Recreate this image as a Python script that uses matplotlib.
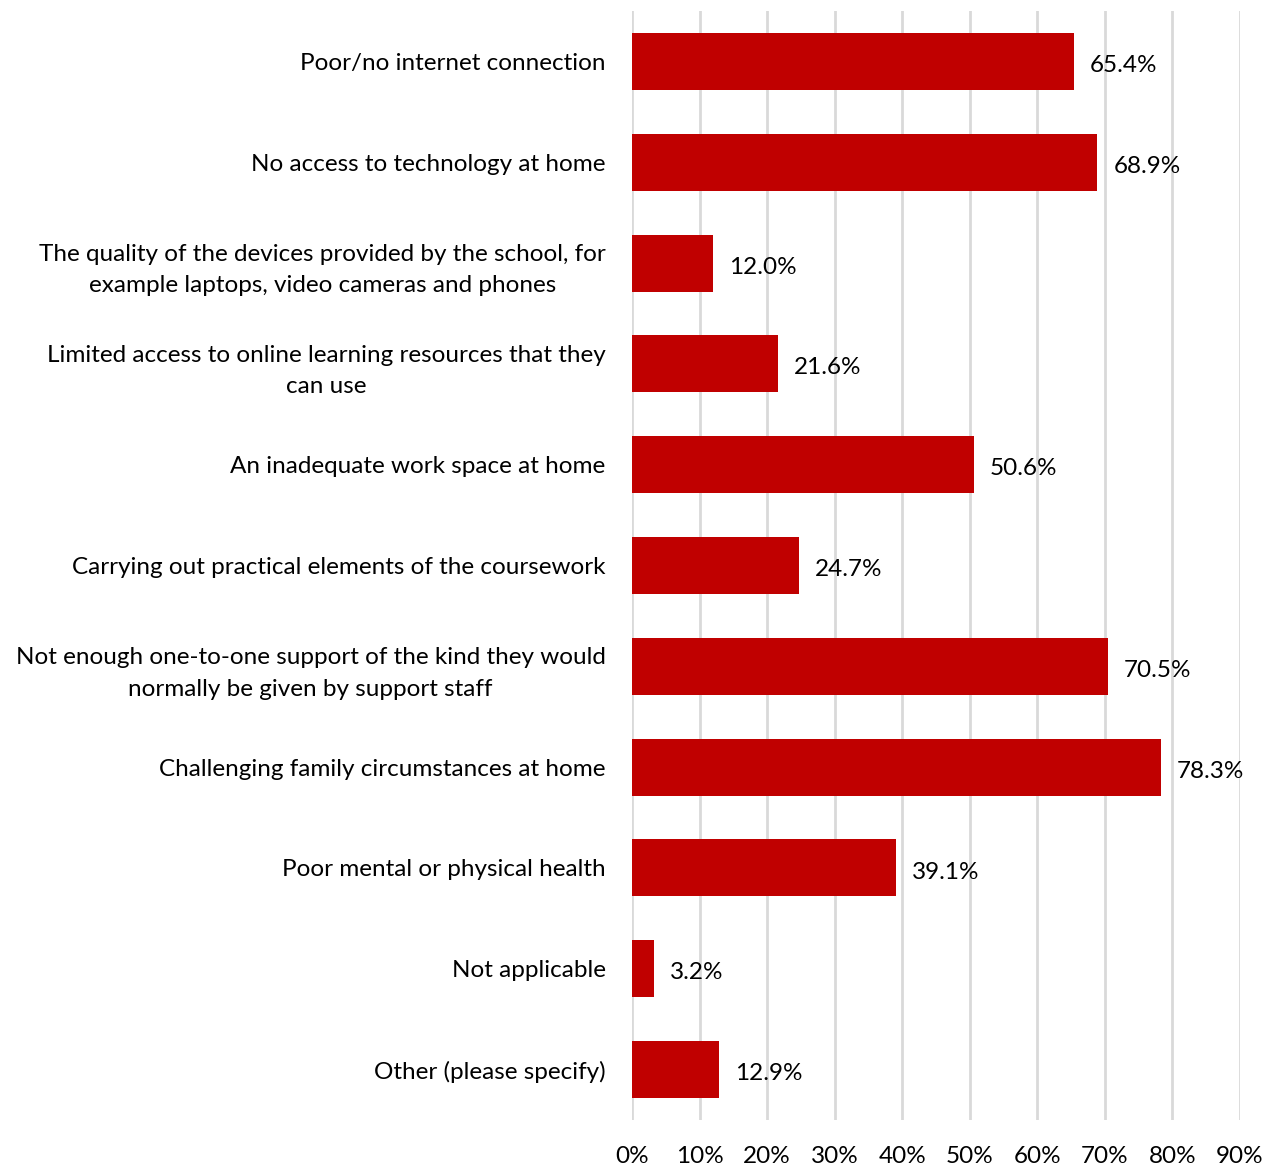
import matplotlib
matplotlib.use("Agg")
import matplotlib.pyplot as plt
from matplotlib.ticker import MultipleLocator, PercentFormatter

plt.rcParams["font.family"] = ["Lato", "DejaVu Sans"]

categories = [
    "Poor/no internet connection",
    "No access to technology at home",
    "The quality of the devices provided by the school, for\nexample laptops, video cameras and phones",
    "Limited access to online learning resources that they\ncan use",
    "An inadequate work space at home",
    "Carrying out practical elements of the coursework",
    "Not enough one-to-one support of the kind they would\nnormally be given by support staff",
    "Challenging family circumstances at home",
    "Poor mental or physical health",
    "Not applicable",
    "Other (please specify)",
]
values = [65.4, 68.9, 12.0, 21.6, 50.6, 24.7, 70.5, 78.3, 39.1, 3.2, 12.9]

FS = 17.5

fig = plt.figure(figsize=(12.64, 11.66), dpi=100)
ax = fig.add_axes([0.5, 0.0395, 0.481, 0.951])

pos = list(range(len(categories)))
ax.barh(pos, values, height=0.565, color="#C00000", zorder=3)

for y, v in zip(pos, values):
    ax.annotate(f"{v:.1f}%", (v, y), xytext=(11.5, -1.5), textcoords="offset points",
                va="center_baseline", ha="left", fontsize=FS, color="black", zorder=4)

ax.set_xlim(0, 90)
ax.set_ylim(len(categories) - 0.5, -0.5)
ax.xaxis.set_major_locator(MultipleLocator(10))
ax.xaxis.set_major_formatter(PercentFormatter(decimals=0))
ax.set_yticks(pos)
ax.set_yticklabels(categories, multialignment="center", linespacing=1.6)

ax.grid(axis="x", color="#D9D9D9", linewidth=2, zorder=0)
for s in ax.spines.values():
    s.set_visible(False)
ax.tick_params(axis="both", length=0, labelsize=FS)
ax.tick_params(axis="x", pad=19)
ax.tick_params(axis="y", pad=19)

fig.savefig("out.png", dpi=100)
